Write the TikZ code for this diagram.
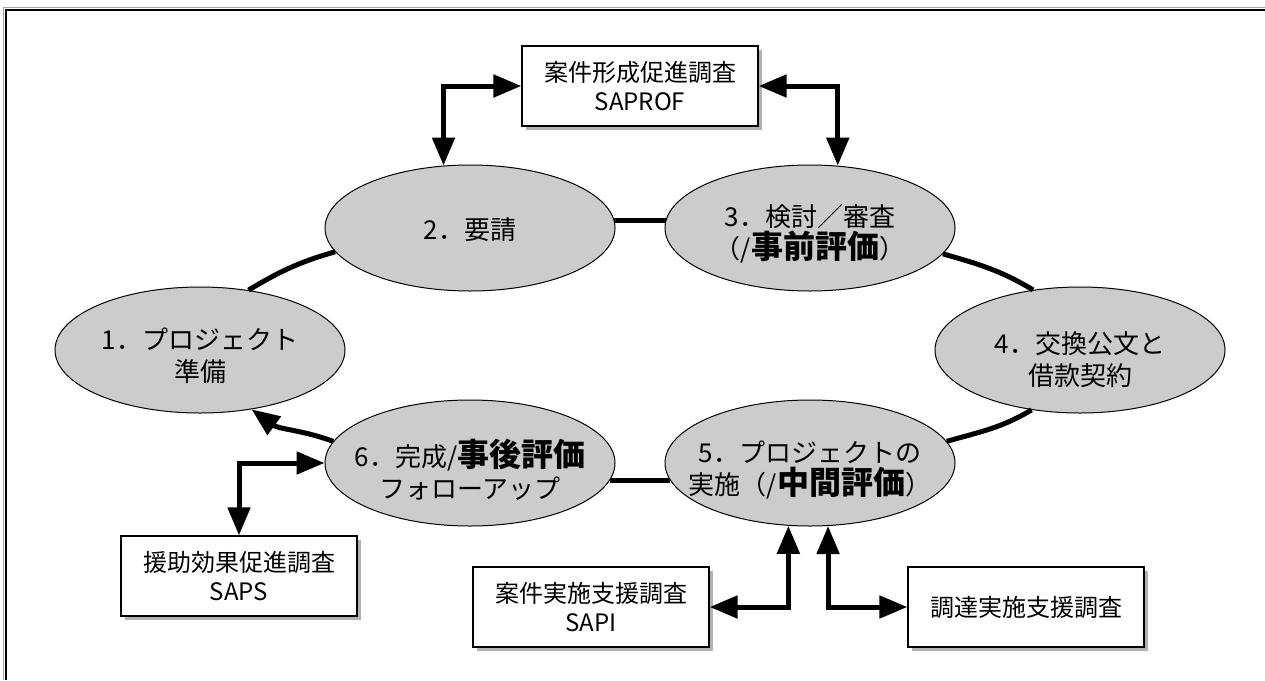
\documentclass[tikz,border=0pt]{standalone}
\usepackage{fontspec}
\setmainfont{Noto Sans CJK JP}
\usetikzlibrary{arrows.meta,shapes.geometric,shadows}
\begin{document}
\begin{tikzpicture}[x=1pt,y=1pt,
  phase/.style={ellipse, draw=black, line width=1pt, fill=black!20,
    minimum width=290pt, minimum height=126pt, inner sep=0pt},
  ptext/.style={align=center, font=\fontsize{26}{32}\selectfont, inner sep=0pt},
  study/.style={draw=black, line width=1.2pt, fill=white,
    minimum width=236pt, minimum height=80pt, align=center, inner sep=0pt,
    font=\fontsize{24}{29}\selectfont,
    drop shadow={shadow xshift=3.5pt, shadow yshift=-3.5pt, fill=black!30, opacity=1}},
  conn/.style={line width=5pt},
  dbl/.style={conn, {Triangle[length=28pt,width=22pt]}-{Triangle[length=28pt,width=22pt]}},
  frameline/.style={line width=2pt, black},
  frameshade/.style={line width=1pt, black!35}
]
\useasboundingbox (0,0) rectangle (1265,-680);
% frame
\draw[frameshade] (3.5,-680) -- (3.5,-7.5) -- (1265,-7.5);
\draw[frameline] (5.5,-680) -- (5.5,-9.5) -- (1265,-9.5);

% phases
\node[phase] (e1) at (200,-350) {};
\node[phase] (e2) at (470,-228) {};
\node[phase] (e3) at (810,-228) {};
\node[phase] (e4) at (1080,-350) {};
\node[phase] (e5) at (810,-463) {};
\node[phase] (e6) at (470,-463) {};

\node[ptext] (t1) at (200,-356) {1．プロジェクト\\準備};
\node[ptext] (t2) at (470,-230) {2．要請};
\node[ptext] (t3) at (810,-234) {3．検討／審査\\（/{\bfseries\fontsize{32}{32}\selectfont 事前評価}）};
\node[ptext] (t4) at (1080,-360) {4．交換公文と\\借款契約};
\node[ptext] (t5) at (810,-470) {5．プロジェクトの\\実施（/{\bfseries\fontsize{32}{32}\selectfont 中間評価}）};
\node[ptext] (t6) at (470,-470) {6．完成/{\bfseries\fontsize{32}{32}\selectfont 事後評価}\\フォローアップ};

% studies
\node[study] (sp) at (640,-86) {案件形成促進調査\\SAPROF};
\node[study] (saps) at (239,-576) {援助効果促進調査\\SAPS};
\node[study] (sapi) at (591,-607) {案件実施支援調査\\SAPI};
\node[study] (proc) at (1026,-607) {調達実施支援調査};

% cycle connectors
\draw[conn] (e1.51) to[out=31,in=196] (e2.190);
\draw[conn] (e2.3) -- (e3.177);
\draw[conn] (e3.-11) to[out=-16,in=149] (e4.128);
\draw[conn] (e4.231) to[out=211,in=16] (e5.9);
\draw[conn] (e5.187) -- (e6.-7);
\draw[conn,-{Triangle[length=28pt,width=22pt]}] (e6.171) to[out=160,in=-36] (e1.-49);

% study connectors
\draw[dbl] (sp.west) -| (e2.113.6);
\draw[dbl] (sp.east) -| (e3.66.4);
\draw[dbl] (saps.north) |- (e6.west);
\draw[dbl] (sapi.east) -| (e5.251.4);
\draw[dbl] (e5.286) |- (proc.west);
\end{tikzpicture}
\end{document}
